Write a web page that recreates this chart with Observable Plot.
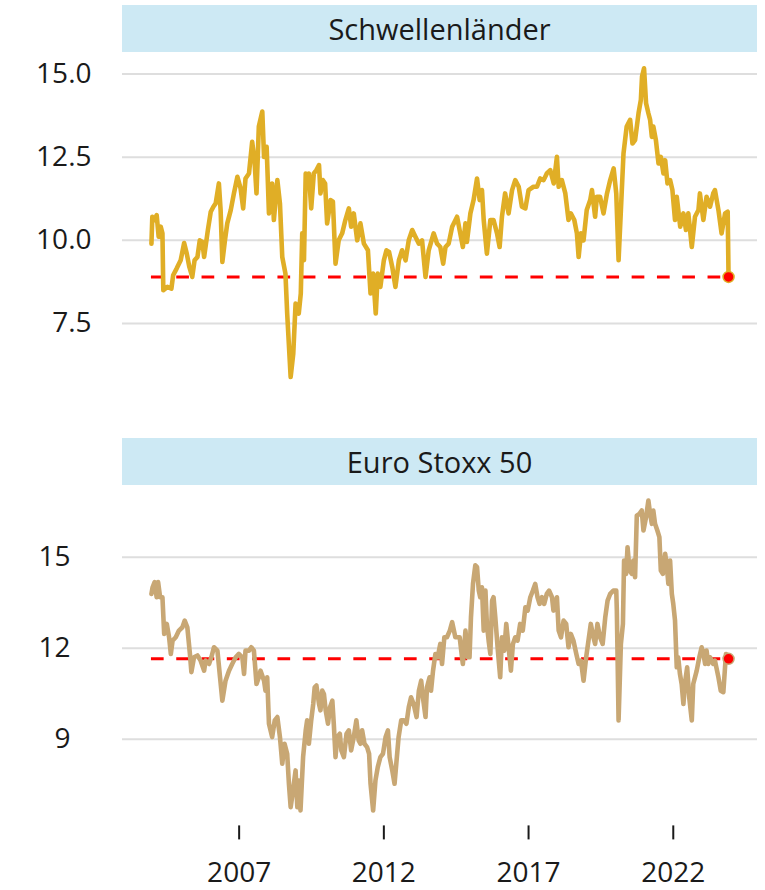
<!DOCTYPE html>
<html><head><meta charset="utf-8">
<script src="https://cdn.jsdelivr.net/npm/d3@7"></script>
<script src="https://cdn.jsdelivr.net/npm/@observablehq/plot@0.6"></script>
<style>
body{margin:0;background:#fff;}
#root{position:relative;width:765px;height:890px;font-family:"Open Sans",sans-serif;overflow:hidden;}
.strip{position:absolute;left:122px;width:635px;height:47px;background:#cde9f4;color:#1a1a1a;font-size:29px;display:flex;align-items:center;justify-content:center;}
.chart{position:absolute;left:0;}
</style></head><body><div id="root"></div>
<script>
const panelTitles = ["Schwellenländer", "Euro Stoxx 50"];
const xTicks = [2007, 2012, 2017, 2022];
const emTicks = [7.5, 10, 12.5, 15];
const esTicks = [9, 12, 15];

// [decimal year, value]
const emPoints = [[2003.97,9.90],[2004.00,10.71],[2004.08,10.61],[2004.15,10.76],[2004.22,10.11],[2004.29,10.41],[2004.35,10.21],[2004.38,8.50],[2004.52,8.60],[2004.66,8.55],[2004.72,8.95],[2004.84,9.15],[2004.98,9.40],[2005.10,9.92],[2005.19,9.60],[2005.28,9.20],[2005.38,8.90],[2005.46,9.40],[2005.56,9.50],[2005.64,10.00],[2005.73,9.95],[2005.79,9.50],[2005.92,10.31],[2006.02,10.86],[2006.11,11.01],[2006.19,11.11],[2006.30,11.71],[2006.36,10.91],[2006.42,9.35],[2006.51,10.00],[2006.59,10.51],[2006.71,10.91],[2006.82,11.41],[2006.94,11.91],[2007.05,11.56],[2007.14,10.96],[2007.22,11.86],[2007.34,12.01],[2007.45,12.96],[2007.53,12.41],[2007.60,11.41],[2007.68,13.42],[2007.80,13.87],[2007.86,12.51],[2007.95,12.81],[2008.03,10.81],[2008.14,11.71],[2008.20,10.61],[2008.32,11.81],[2008.41,11.11],[2008.49,9.50],[2008.60,9.00],[2008.66,7.80],[2008.78,5.89],[2008.87,6.59],[2008.95,8.10],[2009.06,7.80],[2009.13,8.40],[2009.18,10.21],[2009.24,9.40],[2009.30,12.01],[2009.35,11.61],[2009.41,12.01],[2009.49,10.96],[2009.58,12.01],[2009.67,12.11],[2009.76,12.26],[2009.81,11.41],[2009.89,11.81],[2009.97,11.71],[2010.04,10.51],[2010.16,11.21],[2010.24,11.16],[2010.33,9.30],[2010.44,10.00],[2010.56,10.21],[2010.67,10.61],[2010.79,10.96],[2010.87,10.41],[2010.96,10.81],[2011.08,10.00],[2011.19,10.51],[2011.31,9.90],[2011.45,9.70],[2011.54,8.40],[2011.63,9.00],[2011.72,7.80],[2011.79,9.00],[2011.88,8.60],[2012.00,9.40],[2012.09,9.70],[2012.18,9.65],[2012.29,9.20],[2012.40,8.60],[2012.52,9.40],[2012.63,9.70],[2012.75,9.40],[2012.86,10.00],[2012.98,10.31],[2013.09,10.11],[2013.21,9.90],[2013.32,10.00],[2013.44,8.90],[2013.55,9.70],[2013.72,10.21],[2013.84,9.90],[2013.95,9.80],[2014.05,9.30],[2014.13,9.80],[2014.24,9.90],[2014.36,10.41],[2014.53,10.71],[2014.64,10.21],[2014.73,9.80],[2014.82,10.51],[2014.87,9.95],[2014.99,10.81],[2015.10,11.21],[2015.22,11.86],[2015.31,11.21],[2015.39,11.51],[2015.45,10.61],[2015.56,9.60],[2015.68,10.61],[2015.79,10.61],[2015.91,10.21],[2016.00,9.80],[2016.08,10.71],[2016.19,11.41],[2016.31,10.81],[2016.43,11.51],[2016.54,11.81],[2016.66,11.61],[2016.77,11.01],[2016.89,10.96],[2017.00,11.51],[2017.17,11.61],[2017.29,11.61],[2017.40,11.86],[2017.52,11.81],[2017.63,12.01],[2017.75,12.11],[2017.87,11.71],[2017.98,12.51],[2018.04,11.61],[2018.15,11.81],[2018.27,11.41],[2018.38,10.61],[2018.46,10.81],[2018.58,10.61],[2018.67,10.21],[2018.73,9.50],[2018.81,10.21],[2018.90,10.00],[2019.01,10.91],[2019.13,11.21],[2019.19,11.51],[2019.30,10.71],[2019.36,11.31],[2019.47,11.31],[2019.59,10.81],[2019.71,11.41],[2019.82,11.81],[2019.94,12.16],[2020.03,11.41],[2020.11,9.40],[2020.19,10.91],[2020.28,12.61],[2020.39,13.42],[2020.51,13.62],[2020.59,12.91],[2020.68,13.01],[2020.80,13.82],[2020.88,14.22],[2020.92,14.92],[2020.99,15.17],[2021.06,14.12],[2021.14,13.82],[2021.20,13.62],[2021.26,13.11],[2021.31,13.42],[2021.40,13.01],[2021.49,12.31],[2021.57,12.51],[2021.66,12.01],[2021.72,12.41],[2021.80,11.71],[2021.89,11.81],[2021.97,11.51],[2022.06,10.61],[2022.12,11.31],[2022.24,10.41],[2022.35,10.81],[2022.44,10.31],[2022.52,10.81],[2022.64,9.80],[2022.75,10.71],[2022.87,10.91],[2022.92,11.41],[2023.04,10.61],[2023.15,11.31],[2023.27,11.01],[2023.38,11.41],[2023.44,11.51],[2023.56,10.91],[2023.67,10.21],[2023.79,10.81],[2023.88,10.86],[2023.91,8.90]];

const esPoints = [[2003.97,13.79],[2004.01,14.01],[2004.08,14.18],[2004.15,13.68],[2004.20,14.18],[2004.27,13.68],[2004.35,13.68],[2004.41,12.47],[2004.50,12.80],[2004.58,12.36],[2004.64,11.81],[2004.70,12.25],[2004.81,12.36],[2004.92,12.58],[2005.04,12.69],[2005.12,12.91],[2005.21,12.69],[2005.30,11.81],[2005.35,11.21],[2005.44,11.70],[2005.56,11.76],[2005.67,11.59],[2005.79,11.26],[2005.84,11.59],[2005.96,11.48],[2006.04,11.70],[2006.13,12.03],[2006.25,11.92],[2006.34,11.04],[2006.42,10.27],[2006.53,10.93],[2006.65,11.26],[2006.76,11.48],[2006.88,11.70],[2006.99,11.81],[2007.11,11.70],[2007.17,11.15],[2007.22,11.92],[2007.34,11.92],[2007.42,12.03],[2007.51,11.92],[2007.60,10.82],[2007.68,11.04],[2007.74,11.26],[2007.86,10.93],[2007.91,10.60],[2007.97,11.04],[2008.03,9.51],[2008.14,9.07],[2008.23,9.62],[2008.32,9.73],[2008.41,9.07],[2008.49,8.19],[2008.57,8.85],[2008.66,8.52],[2008.72,7.53],[2008.78,6.76],[2008.83,7.09],[2008.95,7.97],[2009.01,6.76],[2009.06,7.64],[2009.12,6.65],[2009.21,8.41],[2009.30,9.29],[2009.35,9.62],[2009.41,8.85],[2009.49,9.62],[2009.56,10.16],[2009.61,10.71],[2009.67,10.77],[2009.76,10.16],[2009.81,9.95],[2009.87,10.60],[2009.93,10.49],[2009.99,9.95],[2010.07,9.51],[2010.14,10.05],[2010.22,10.27],[2010.27,9.51],[2010.33,8.41],[2010.39,9.07],[2010.48,9.18],[2010.53,8.63],[2010.62,8.41],[2010.71,9.18],[2010.79,9.29],[2010.87,8.63],[2010.96,9.07],[2011.05,9.62],[2011.13,8.96],[2011.19,8.85],[2011.25,9.29],[2011.33,8.85],[2011.42,8.74],[2011.49,8.52],[2011.54,7.53],[2011.63,6.65],[2011.71,7.64],[2011.79,8.08],[2011.88,8.41],[2011.97,8.52],[2012.06,9.07],[2012.14,9.29],[2012.20,8.41],[2012.29,7.97],[2012.37,7.53],[2012.43,8.19],[2012.51,9.07],[2012.60,9.62],[2012.69,9.62],[2012.78,9.51],[2012.86,10.05],[2012.94,10.38],[2013.03,10.16],[2013.13,9.73],[2013.21,10.60],[2013.29,10.93],[2013.35,10.38],[2013.44,9.73],[2013.49,10.71],[2013.58,11.04],[2013.63,10.60],[2013.70,11.26],[2013.78,11.81],[2013.86,11.70],[2013.95,12.14],[2014.01,11.48],[2014.09,12.36],[2014.18,12.36],[2014.28,12.58],[2014.36,12.86],[2014.47,12.36],[2014.62,12.36],[2014.70,11.70],[2014.73,11.48],[2014.82,12.58],[2014.90,11.70],[2014.96,11.70],[2015.01,13.02],[2015.08,14.12],[2015.16,14.73],[2015.22,14.67],[2015.28,13.90],[2015.33,13.68],[2015.39,14.01],[2015.45,12.58],[2015.51,13.90],[2015.56,12.80],[2015.62,12.25],[2015.68,11.81],[2015.74,13.57],[2015.79,13.68],[2015.85,13.02],[2015.93,12.03],[2016.02,11.04],[2016.08,12.36],[2016.16,11.92],[2016.23,12.80],[2016.31,12.03],[2016.39,11.26],[2016.46,12.14],[2016.54,12.36],[2016.62,12.25],[2016.71,12.80],[2016.80,12.58],[2016.89,13.35],[2016.97,13.24],[2017.06,13.68],[2017.15,13.90],[2017.23,14.12],[2017.31,13.68],[2017.38,13.46],[2017.46,13.68],[2017.54,13.46],[2017.63,13.79],[2017.71,13.90],[2017.81,13.68],[2017.86,13.24],[2017.98,13.68],[2018.04,12.58],[2018.12,12.36],[2018.21,12.91],[2018.30,12.80],[2018.38,12.03],[2018.46,12.47],[2018.55,12.25],[2018.65,11.81],[2018.73,11.48],[2018.81,11.59],[2018.90,10.93],[2018.99,11.70],[2019.07,12.25],[2019.15,12.80],[2019.24,12.36],[2019.30,12.14],[2019.38,12.80],[2019.47,12.36],[2019.56,12.14],[2019.65,13.02],[2019.73,13.57],[2019.82,13.79],[2019.93,13.90],[2020.03,13.90],[2020.05,13.24],[2020.11,9.62],[2020.19,12.14],[2020.26,12.80],[2020.30,14.89],[2020.37,14.45],[2020.42,15.33],[2020.49,14.56],[2020.57,14.45],[2020.62,14.89],[2020.68,14.34],[2020.74,16.37],[2020.83,16.43],[2020.91,16.54],[2020.97,15.88],[2021.06,16.32],[2021.14,16.87],[2021.20,16.43],[2021.26,16.10],[2021.31,16.54],[2021.37,16.10],[2021.45,15.88],[2021.52,15.66],[2021.57,14.56],[2021.64,14.45],[2021.72,15.11],[2021.77,14.78],[2021.83,14.12],[2021.89,14.89],[2021.95,13.79],[2022.00,13.46],[2022.06,12.91],[2022.12,11.37],[2022.17,11.70],[2022.23,11.15],[2022.29,10.82],[2022.35,10.16],[2022.40,10.82],[2022.48,11.37],[2022.55,10.38],[2022.64,9.62],[2022.69,10.82],[2022.81,11.26],[2022.90,11.70],[2022.98,12.03],[2023.04,11.81],[2023.10,11.48],[2023.15,11.92],[2023.21,11.48],[2023.27,11.70],[2023.38,11.48],[2023.44,11.59],[2023.56,11.04],[2023.64,10.60],[2023.73,10.55],[2023.82,11.81],[2023.91,11.65]];

const colors = ["#e0ae26", "#c8a774"];
const xDomain = [2002.97, 2024.91];
const font = '"Open Sans", sans-serif';

function panel({points, color, yDomain, yTicks, yFmt, height, marginBottom, showX, labelPad}) {
  const data = points.map(([t, v]) => ({t, v}));
  const first = data[0], last = data[data.length - 1];
  const marks = [
    Plot.gridY(yTicks, {stroke: "#dedede", strokeWidth: 2, strokeOpacity: 1}),
    Plot.ruleY([last], {y: "v", x1: first.t, x2: last.t, stroke: "#ff0000", strokeWidth: 3, strokeDasharray: "12.7,12.6"}),
    Plot.line(data, {x: "t", y: "v", stroke: color, strokeWidth: 4.6, strokeLinejoin: "round", strokeLinecap: "round"}),
    Plot.dot([last], {x: "t", y: "v", r: 5.5, fill: "#ff0000", stroke: color, strokeWidth: 1.5}),
    Plot.axisY(yTicks, {tickSize: 0, tickPadding: labelPad, tickFormat: yFmt, fontSize: 28, fill: "#1a1a1a", label: null})
  ];
  if (showX) marks.push(Plot.axisX(xTicks, {tickSize: 14, tickPadding: 22, strokeWidth: 2, stroke: "#1a1a1a", tickFormat: d => String(d), fontSize: 28, fill: "#1a1a1a", label: null}));
  return Plot.plot({
    width: 765, height,
    marginLeft: 122, marginRight: 8, marginTop: 0, marginBottom,
    style: {fontFamily: font, fontSize: "28px", background: "transparent", overflow: "visible"},
    x: showX ? {domain: xDomain, label: null} : {domain: xDomain, label: null, axis: null},
    y: {domain: yDomain, label: null},
    marks
  });
}

const root = document.getElementById("root");
function addStrip(text, top) {
  const d = document.createElement("div");
  d.className = "strip"; d.style.top = top + "px"; d.textContent = text;
  root.appendChild(d);
}
function addChart(svg, top) {
  svg.classList.add("chart"); svg.style.top = top + "px"; svg.style.position = "absolute";
  root.appendChild(svg);
}

addStrip(panelTitles[0], 5);
addChart(panel({points: emPoints, color: colors[0], yDomain: [5.366, 15.646], yTicks: emTicks,
  yFmt: d3.format(".1f"), height: 342, marginBottom: 0, showX: false, labelPad: 31}), 52);
addStrip(panelTitles[1], 438);
addChart(panel({points: esPoints, color: colors[1], yDomain: [6.141, 17.364], yTicks: esTicks,
  yFmt: d => String(d), height: 405, marginBottom: 64.6, showX: true, labelPad: 52}), 485);
</script></body></html>
